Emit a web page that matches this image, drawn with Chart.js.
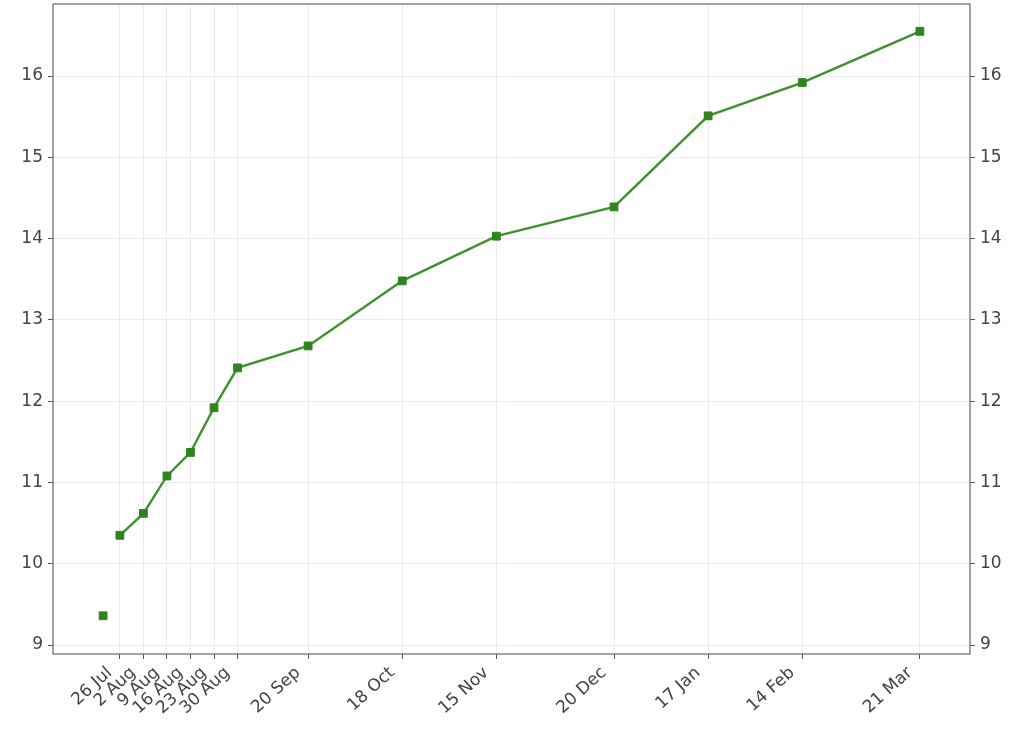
<!DOCTYPE html>
<html>
<head>
<meta charset="utf-8">
<script src="https://cdn.jsdelivr.net/npm/chart.js@4/dist/chart.umd.min.js"></script>
<style>
html,body{margin:0;padding:0;background:#fff;}
canvas{display:block;}
</style>
</head>
<body>
<canvas id="c" width="1024" height="733"></canvas>
<script>
// Days counted from 26 Jul
const xTickDays = [0, 7, 14, 21, 28, 35, 56, 84, 112, 147, 175, 203, 238];
const xTickLabels = ['26 Jul','2 Aug','9 Aug','16 Aug','23 Aug','30 Aug','20 Sep','18 Oct','15 Nov','20 Dec','17 Jan','14 Feb','21 Mar'];
const yTicks = [9, 10, 11, 12, 13, 14, 15, 16];

const lineDays   = [0, 7, 14, 21, 28, 35, 56, 84, 112, 147, 175, 203, 238];
const lineValues = [10.35, 10.62, 11.08, 11.37, 11.92, 12.41, 12.68, 13.48, 14.03, 14.39, 15.51, 15.92, 16.55];

const isolatedDays   = [-5];
const isolatedValues = [9.36];

const xMin = -19.9, xMax = 252.9;
const yMin = 8.89, yMax = 16.886;

const lineColor = '#3f9130';
const markerColor = '#2f8420';
const tickFont = {family: 'DejaVu Sans', size: 17};
const tickColor = '#444444';

const framePlugin = {
  id: 'frame',
  afterDatasetsDraw(chart) {
    const a = chart.chartArea, ctx = chart.ctx;
    ctx.save();
    ctx.strokeStyle = '#666666';
    ctx.lineWidth = 1.2;
    ctx.strokeRect(a.left, a.top, a.right - a.left, a.bottom - a.top);
    ctx.restore();
  }
};

function yAxis(pos, width) {
  return {
    type: 'linear',
    position: pos,
    min: yMin, max: yMax,
    afterBuildTicks(s) { s.ticks = yTicks.map(v => ({value: v})); },
    afterFit(s) { s.width = width; s.paddingTop = 0; s.paddingBottom = 0; },
    grid: {
      display: true,
      drawOnChartArea: pos === 'left',
      color: '#ebebeb',
      tickColor: '#555555',
      tickLength: 5,
      lineWidth: 1
    },
    border: {display: false},
    ticks: {font: tickFont, color: tickColor, padding: 5, callback: v => String(v)}
  };
}

new Chart(document.getElementById('c'), {
  type: 'line',
  data: {
    datasets: [
      {
        data: lineDays.map((d, i) => ({x: d, y: lineValues[i]})),
        borderColor: lineColor,
        borderWidth: 2.4,
        pointStyle: 'rect',
        pointRadius: 5.5,
        pointBorderWidth: 1,
        pointBackgroundColor: markerColor,
        pointBorderColor: markerColor,
        fill: false,
        tension: 0,
        yAxisID: 'y'
      },
      {
        data: isolatedDays.map((d, i) => ({x: d, y: isolatedValues[i]})),
        showLine: false,
        borderColor: lineColor,
        pointStyle: 'rect',
        pointRadius: 5.5,
        pointBorderWidth: 1,
        pointBackgroundColor: markerColor,
        pointBorderColor: markerColor,
        yAxisID: 'y'
      }
    ]
  },
  options: {
    responsive: false,
    animation: false,
    devicePixelRatio: 1,
    layout: {autoPadding: false, padding: {top: 4, left: 0, right: 0, bottom: 0}},
    plugins: {legend: {display: false}, tooltip: {enabled: false}, title: {display: false}},
    scales: {
      x: {
        type: 'linear',
        min: xMin, max: xMax,
        afterBuildTicks(s) { s.ticks = xTickDays.map(v => ({value: v})); },
        afterFit(s) { s.height = 79; s.paddingLeft = 0; s.paddingRight = 0; s.paddingTop = 0; s.paddingBottom = 0; },
        grid: {color: '#ebebeb', tickColor: '#555555', tickLength: 5, lineWidth: 1},
        border: {display: false},
        ticks: {
          font: tickFont, color: tickColor, padding: 4, labelOffset: -10,
          minRotation: 42, maxRotation: 42, autoSkip: false,
          callback: (v, i) => xTickLabels[i]
        }
      },
      y: yAxis('left', 53),
      y2: yAxis('right', 54)
    }
  },
  plugins: [framePlugin]
});
</script>
</body>
</html>
